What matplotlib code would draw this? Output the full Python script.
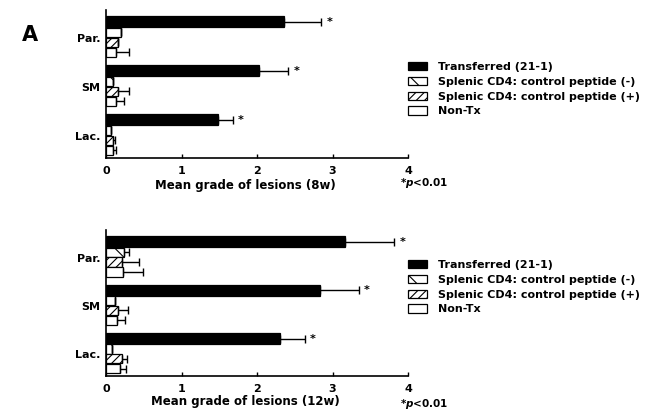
import matplotlib
matplotlib.use('Agg')
import matplotlib.pyplot as plt

plt.rcParams['font.family'] = ['DejaVu Sans']
plt.rcParams['font.weight'] = 'bold'
plt.rcParams['hatch.linewidth'] = 0.8
plt.rcParams['mathtext.fontset'] = 'custom'
plt.rcParams['mathtext.it'] = 'DejaVu Sans:italic:bold'
plt.rcParams['mathtext.rm'] = 'DejaVu Sans:bold'

groups = ['Par.', 'SM', 'Lac.']
series = ['Transferred (21-1)', 'Splenic CD4: control peptide (-)',
          'Splenic CD4: control peptide (+)', 'Non-Tx']

# 8 weeks
transferred_8w = [2.36, 2.03, 1.48]
transferred_8w_err = [0.49, 0.38, 0.20]
neg_8w = [0.20, 0.09, 0.07]
neg_8w_err = [0.0, 0.0, 0.0]
pos_8w = [0.16, 0.16, 0.09]
pos_8w_err = [0.0, 0.15, 0.03]
nontx_8w = [0.13, 0.13, 0.09]
nontx_8w_err = [0.18, 0.11, 0.04]

# 12 weeks
transferred_12w = [3.17, 2.83, 2.31]
transferred_12w_err = [0.65, 0.52, 0.32]
neg_12w = [0.24, 0.12, 0.08]
neg_12w_err = [0.07, 0.0, 0.0]
pos_12w = [0.21, 0.16, 0.21]
pos_12w_err = [0.23, 0.13, 0.07]
nontx_12w = [0.23, 0.14, 0.18]
nontx_12w_err = [0.26, 0.11, 0.08]

styles = [dict(color='black', hatch=None, height=1.1, off=0.0),
          dict(color='white', hatch='\\', height=0.95, off=1.05),
          dict(color='white', hatch='////', height=0.95, off=2.05),
          dict(color='white', hatch=None, height=0.95, off=3.05)]

group_gap = 4.9


def draw_panel(ax, vals, errs, xlabel, label_y):
    for i, (v, e, st) in enumerate(zip(vals, errs, styles)):
        ys = [g * group_gap + st['off'] for g in range(len(groups))]
        ax.barh(ys, v, height=st['height'], color=st['color'], edgecolor='black',
                hatch=st['hatch'], linewidth=0.9, label=series[i], zorder=2)
        ax.errorbar(v, ys, xerr=[[0] * len(v), e], fmt='none', ecolor='black',
                    elinewidth=1.0, capsize=3, capthick=1.0, zorder=3)
    # significance stars after transferred bars
    for g in range(len(groups)):
        ax.text(vals[0][g] + errs[0][g] + 0.07, g * group_gap, '*',
                fontsize=8, va='center', ha='left')
    ax.set_xlim(0, 4)
    ax.set_ylim(2 * group_gap + 3.05 + 0.75, -1.2)
    ax.set_xticks([0, 1, 2, 3, 4])
    ax.set_yticks([g * group_gap + 1.6 for g in range(len(groups))])
    ax.set_yticklabels(groups)
    ax.tick_params(axis='y', length=0, pad=4, labelsize=8)
    ax.tick_params(axis='x', direction='in', length=3, width=1, pad=6, labelsize=8)
    for s in ['top', 'right']:
        ax.spines[s].set_visible(False)
    for s in ['left', 'bottom']:
        ax.spines[s].set_linewidth(1.2)
    ax.set_xlabel(xlabel, fontsize=8.5, fontweight='bold')
    ax.xaxis.set_label_coords(0.46, label_y)


fig = plt.figure(figsize=(6.48, 4.16), dpi=100)
W, H = 648, 416
ax1 = fig.add_axes([106 / W, 1 - 158 / H, 302 / W, 148 / H])
ax2 = fig.add_axes([106 / W, 1 - 376 / H, 302 / W, 146 / H])

draw_panel(ax1, [transferred_8w, neg_8w, pos_8w, nontx_8w],
           [transferred_8w_err, neg_8w_err, pos_8w_err, nontx_8w_err],
           'Mean grade of lesions (8w)', -0.145)
draw_panel(ax2, [transferred_12w, neg_12w, pos_12w, nontx_12w],
           [transferred_12w_err, neg_12w_err, pos_12w_err, nontx_12w_err],
           'Mean grade of lesions (12w)', -0.13)

for ax, top in [(ax1, 62), (ax2, 260)]:
    h, l = ax.get_legend_handles_labels()
    ax.legend(h, l, loc='upper left', bbox_to_anchor=(408 / W, 1 - top / H),
              bbox_transform=fig.transFigure, frameon=False, fontsize=8,
              handlelength=1.7, handleheight=0.75, handletextpad=1.0,
              labelspacing=0.43, borderpad=0, borderaxespad=0)

fig.text(400 / W, 1 - 183 / H, r'*$\it{p}$<0.01', fontsize=7.5, va='center')
fig.text(400 / W, 1 - 404 / H, r'*$\it{p}$<0.01', fontsize=7.5, va='center')
fig.text(22 / W, 1 - 35 / H, 'A', fontsize=15, fontweight='bold', va='center')

fig.savefig('out.png', dpi=100)
